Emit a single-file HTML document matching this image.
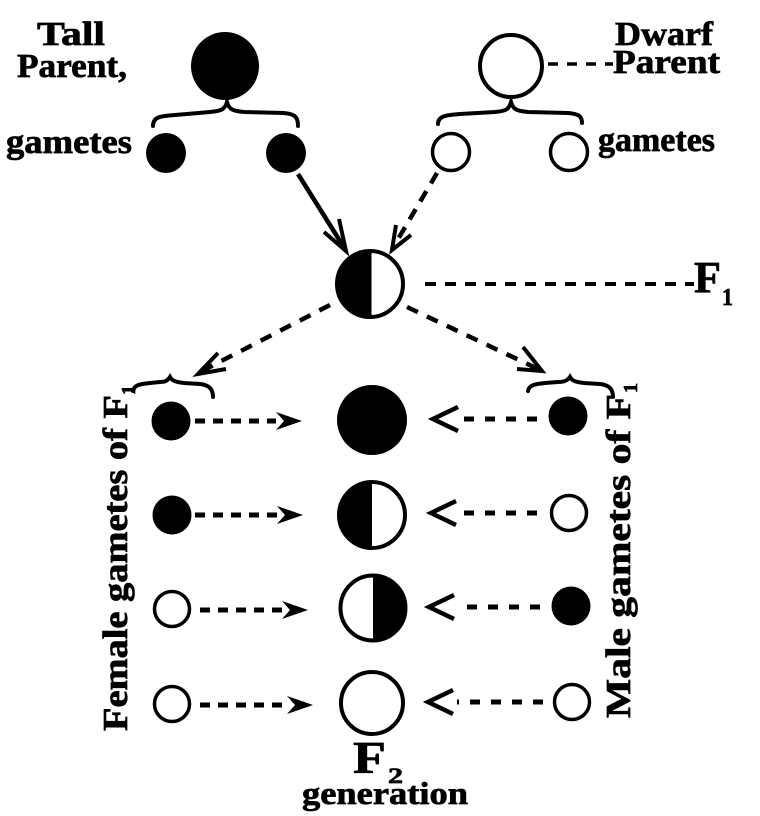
<!DOCTYPE html>
<html>
<head>
<meta charset="utf-8">
<style>
html,body{margin:0;padding:0;background:#fff;}
svg{display:block;}
text{font-family:"Liberation Serif",serif;font-weight:bold;fill:#000;stroke:#000;stroke-width:0.7px;}
</style>
</head>
<body>
<svg width="760" height="816" viewBox="0 0 760 816" xmlns="http://www.w3.org/2000/svg">
<rect width="760" height="816" fill="#fff"/>

<!-- Top labels -->
<text x="37" y="45" font-size="34" textLength="68" lengthAdjust="spacingAndGlyphs">Tall</text>
<text x="17" y="77" font-size="34" textLength="110" lengthAdjust="spacingAndGlyphs">Parent,</text>
<text x="6" y="153" font-size="34" textLength="126" lengthAdjust="spacingAndGlyphs">gametes</text>

<text x="615" y="45" font-size="34" textLength="98" lengthAdjust="spacingAndGlyphs">Dwarf</text>
<text x="613" y="73" font-size="34" textLength="107" lengthAdjust="spacingAndGlyphs">Parent</text>
<text x="598" y="151" font-size="34" textLength="117" lengthAdjust="spacingAndGlyphs">gametes</text>

<!-- Parent circles -->
<circle cx="225" cy="66" r="34" fill="#000"/>
<circle cx="511" cy="66" r="31" fill="#fff" stroke="#000" stroke-width="4"/>
<line x1="548" y1="64" x2="613" y2="64" stroke="#000" stroke-width="3.5" stroke-dasharray="10 9"/>

<!-- Top braces -->
<path d="M153,126 C153,117 160,116 175,115 L210,112 C222,111 225,109 227,102 C229,109 232,111 244,112 L284,113 C296,114 298,118 298,126" fill="none" stroke="#000" stroke-width="4" stroke-linecap="round"/>
<path d="M438,124 C438,116 446,115 460,114 L495,112 C507,111 509,109 511,102 C513,109 516,111 528,112 L568,113 C580,114 582,117 582,123" fill="none" stroke="#000" stroke-width="4" stroke-linecap="round"/>

<!-- Gametes top -->
<circle cx="166" cy="153" r="20" fill="#000"/>
<circle cx="286" cy="153" r="20" fill="#000"/>
<circle cx="451" cy="152" r="18.5" fill="#fff" stroke="#000" stroke-width="3.5"/>
<circle cx="569" cy="152" r="18.5" fill="#fff" stroke="#000" stroke-width="3.5"/>

<!-- Arrows to F1 -->
<line x1="298" y1="174" x2="345" y2="249" stroke="#000" stroke-width="4.5"/>
<path d="M324,232 L346,251 L339,219" fill="none" stroke="#000" stroke-width="4" stroke-linejoin="miter"/>
<line x1="437" y1="173" x2="394" y2="246" stroke="#000" stroke-width="4.5" stroke-dasharray="12 9"/>
<path d="M396,225 L392,250 L411,235" fill="none" stroke="#000" stroke-width="4"/>

<!-- F1 circle -->
<circle cx="370" cy="284" r="33" fill="#fff" stroke="#000" stroke-width="4"/>
<path d="M370,251 A33,33 0 0 0 370,317 Z" fill="#000"/>
<line x1="370" y1="251" x2="370" y2="317" stroke="#000" stroke-width="3"/>

<!-- F1 dashed label line -->
<line x1="425" y1="284" x2="694" y2="284" stroke="#000" stroke-width="4" stroke-dasharray="11 9"/>
<text x="694" y="292" font-size="44" textLength="27" lengthAdjust="spacingAndGlyphs">F</text>
<text x="722" y="305" font-size="24" textLength="11" lengthAdjust="spacingAndGlyphs">1</text>

<!-- F1 down arrows -->
<line x1="330" y1="305" x2="202" y2="371" stroke="#000" stroke-width="4.5" stroke-dasharray="12 10"/>
<path d="M218,353 L198,374 L226,369" fill="none" stroke="#000" stroke-width="4"/>
<line x1="407" y1="307" x2="538" y2="369" stroke="#000" stroke-width="4.5" stroke-dasharray="12 10"/>
<path d="M523,347 L542,371 L517,369" fill="none" stroke="#000" stroke-width="4"/>

<!-- Lower braces -->
<path d="M133,391 C134,385 140,384 150,383 L160,382 C166,382 168,380 170,377 C172,381 176,382 184,383 L200,384 C210,385 213,390 213,397" fill="none" stroke="#000" stroke-width="4" stroke-linecap="round"/>
<path d="M528,391 C529,385 535,384 545,383 L558,382 C565,382 568,380 570,377 C572,381 576,382 584,383 L600,384 C610,385 613,390 613,397" fill="none" stroke="#000" stroke-width="4" stroke-linecap="round"/>

<!-- Vertical labels -->
<text x="127" y="731" font-size="35" transform="rotate(-90 127 731)" textLength="336" lengthAdjust="spacingAndGlyphs">Female gametes of F</text>
<text x="135" y="395" font-size="20" transform="rotate(-90 135 395)" textLength="10" lengthAdjust="spacingAndGlyphs">1</text>
<text x="630" y="718" font-size="35" transform="rotate(-90 630 718)" textLength="324" lengthAdjust="spacingAndGlyphs">Male gametes of F</text>
<text x="637" y="393" font-size="20" transform="rotate(-90 637 393)" textLength="10" lengthAdjust="spacingAndGlyphs">1</text>

<!-- Row 1 -->
<circle cx="171" cy="421" r="19.5" fill="#000"/>
<circle cx="372" cy="420" r="35" fill="#000"/>
<circle cx="568" cy="416" r="19.5" fill="#000"/>
<line x1="195" y1="421" x2="276" y2="421" stroke="#000" stroke-width="5" stroke-dasharray="10 8"/>
<polygon points="302,421 276,412 284,421 276,430" fill="#000"/>
<line x1="537" y1="419" x2="462" y2="419" stroke="#000" stroke-width="5" stroke-dasharray="10 11"/>
<path d="M458,407 L433,419 L458,431" fill="none" stroke="#000" stroke-width="4.5"/>

<!-- Row 2 -->
<circle cx="172" cy="515" r="19.5" fill="#000"/>
<circle cx="372" cy="515" r="33" fill="#fff" stroke="#000" stroke-width="4"/>
<path d="M372,482 A33,33 0 0 0 372,548 Z" fill="#000"/>
<circle cx="569" cy="513" r="17.5" fill="#fff" stroke="#000" stroke-width="3.5"/>
<line x1="195" y1="515" x2="277" y2="515" stroke="#000" stroke-width="5" stroke-dasharray="10 8"/>
<polygon points="303,515 277,506 285,515 277,524" fill="#000"/>
<line x1="537" y1="513" x2="460" y2="513" stroke="#000" stroke-width="5" stroke-dasharray="10 11"/>
<path d="M456,501 L431,513 L456,525" fill="none" stroke="#000" stroke-width="4.5"/>

<!-- Row 3 -->
<circle cx="172" cy="609" r="17.5" fill="#fff" stroke="#000" stroke-width="3.5"/>
<circle cx="373" cy="608" r="32.5" fill="#fff" stroke="#000" stroke-width="4"/>
<path d="M373,575.5 A32.5,32.5 0 0 1 373,640.5 Z" fill="#000"/>
<circle cx="571" cy="606" r="19.5" fill="#000"/>
<line x1="200" y1="610" x2="282" y2="610" stroke="#000" stroke-width="5" stroke-dasharray="10 8"/>
<polygon points="308,610 282,601 290,610 282,619" fill="#000"/>
<line x1="540" y1="607" x2="458" y2="607" stroke="#000" stroke-width="5" stroke-dasharray="10 11"/>
<path d="M454,595 L429,607 L454,619" fill="none" stroke="#000" stroke-width="4.5"/>

<!-- Row 4 -->
<circle cx="172" cy="704" r="17.5" fill="#fff" stroke="#000" stroke-width="3.5"/>
<circle cx="372" cy="703" r="31" fill="#fff" stroke="#000" stroke-width="4"/>
<circle cx="572" cy="702" r="17.5" fill="#fff" stroke="#000" stroke-width="3.5"/>
<line x1="200" y1="705" x2="287" y2="705" stroke="#000" stroke-width="5" stroke-dasharray="10 8"/>
<polygon points="313,705 287,696 295,705 287,714" fill="#000"/>
<line x1="543" y1="702" x2="457" y2="702" stroke="#000" stroke-width="5" stroke-dasharray="10 11"/>
<path d="M453,690 L428,702 L453,714" fill="none" stroke="#000" stroke-width="4.5"/>

<!-- F2 generation -->
<text x="353" y="773" font-size="45" textLength="33" lengthAdjust="spacingAndGlyphs">F</text>
<text x="388" y="783" font-size="22" textLength="15" lengthAdjust="spacingAndGlyphs">2</text>
<text x="302" y="804" font-size="32" textLength="166" lengthAdjust="spacingAndGlyphs">generation</text>
</svg>
</body>
</html>
